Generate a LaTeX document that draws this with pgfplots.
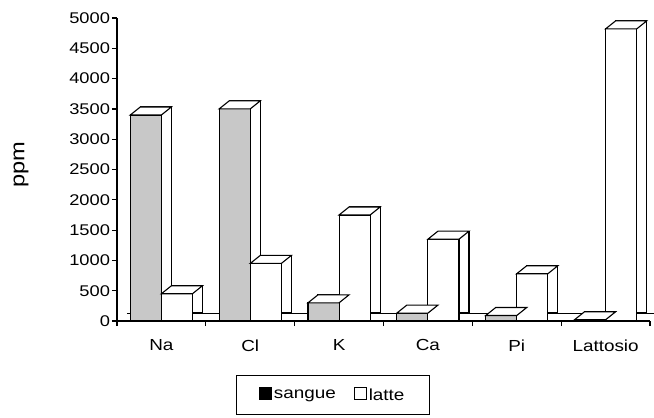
\documentclass[border=0pt]{standalone}
\usepackage{fontspec}
\setmainfont{Liberation Sans}[FakeStretch=1.18]
\usepackage{pgfplots}
\pgfplotsset{compat=1.18}
\definecolor{sangueg}{RGB}{200,200,200}
% top face of a pseudo-3D bar: front width 31.1pt, depth (10pt,8pt)
\pgfdeclareplotmark{topface}{%
  \pgfpathmoveto{\pgfqpoint{-15.55pt}{0pt}}%
  \pgfpathlineto{\pgfqpoint{15.55pt}{0pt}}%
  \pgfpathlineto{\pgfqpoint{25.55pt}{8pt}}%
  \pgfpathlineto{\pgfqpoint{-5.55pt}{8pt}}%
  \pgfpathclose
  \pgfusepathqfillstroke}
\begin{document}
\begin{tikzpicture}[font=\fontsize{15}{17}\selectfont]
\path[use as bounding box] (-117pt,-97pt) rectangle (537pt,321pt);
\begin{axis}[
  scale only axis, width=533pt, height=303pt,
  at={(0pt,0pt)}, anchor=south west,
  xmin=-0.5, xmax=5.5, ymin=0, ymax=5000,
  clip=false,
  axis x line*=bottom, axis y line*=left,
  axis line style={-, line width=1.4pt},
  ytick={0,500,...,5000},
  xtick={-0.5,0.5,1.5,2.5,3.5,4.5,5.5},
  xticklabels={Na,Cl,K,Ca,Pi,Lattosio},
  x tick label as interval,
  tick align=outside,
  major tick length=5pt,
  tick style={line width=1.2pt, black},
  x tick label style={yshift=-10pt, font=\fontsize{16}{18}\selectfont},
  y tick label style={xshift=1.5pt, font=\fontsize{15.5}{17}\selectfont},
  /pgf/number format/assume math mode=true,
  /pgf/number format/1000 sep={},
  ylabel={ppm},
  ylabel style={at={(axis description cs:-0.18,0.515)}, anchor=center, font=\fontsize{20}{22}\selectfont},
  legend style={at={(0.405,-0.245)}, anchor=center, legend columns=-1,
    draw=black, line width=1.2pt, inner xsep=23pt, inner ysep=11pt,
    font=\fontsize{16}{18}\selectfont,
    nodes={inner xsep=2pt},
    /tikz/every even column/.append style={column sep=16pt}},
]
% floor back edge
\addplot[black, line width=1pt, xshift=10pt, yshift=8pt, forget plot]
  coordinates {(-0.5,0) (5.45,0)};
% sangue: back face, front face, top face
\addplot[ybar, bar width=0.35, bar shift=-0.175, fill=white, draw=black, line width=1.1pt, xshift=10pt, yshift=8pt, forget plot]
  coordinates {(0,3400) (1,3500) (2,300) (3,130) (4,90) (5,20)};
\addplot[ybar, bar width=0.35, bar shift=-0.175, fill=sangueg, draw=black, line width=1.1pt,
  legend image code/.code={\draw[fill=black,draw=black,line width=0.6pt] (0pt,-4pt) rectangle (12pt,8pt);}]
  coordinates {(0,3400) (1,3500) (2,300) (3,130) (4,90) (5,20)};
\addlegendentry{sangue}
\addplot[only marks, mark=topface, mark options={fill=white, draw=black, line width=1.1pt}, xshift=-15.55pt, forget plot]
  coordinates {(0,3400) (1,3500) (2,300) (3,130) (4,90) (5,20)};
% latte: back face, front face, top face
\addplot[ybar, bar width=0.35, bar shift=0.175, fill=white, draw=black, line width=1.1pt, xshift=10pt, yshift=8pt, forget plot]
  coordinates {(0,450) (1,950) (2,1750) (3,1350) (4,780) (5,4820)};
\addplot[ybar, bar width=0.35, bar shift=0.175, fill=white, draw=black, line width=1.1pt,
  legend image code/.code={\draw[fill=white,draw=black,line width=1pt] (0pt,-4pt) rectangle (12pt,8pt);}]
  coordinates {(0,450) (1,950) (2,1750) (3,1350) (4,780) (5,4820)};
\addlegendentry{latte}
\addplot[only marks, mark=topface, mark options={fill=white, draw=black, line width=1.1pt}, xshift=15.55pt, forget plot]
  coordinates {(0,450) (1,950) (2,1750) (3,1350) (4,780) (5,4820)};
\end{axis}
\end{tikzpicture}
\end{document}
